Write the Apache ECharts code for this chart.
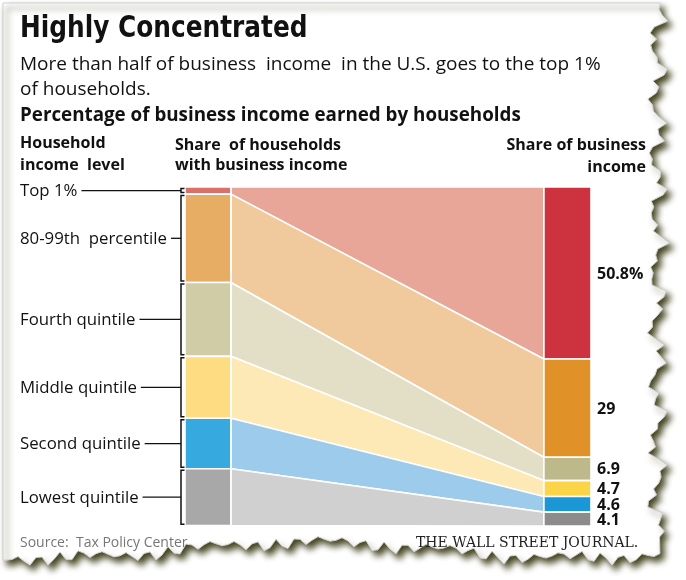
<!DOCTYPE html>
<html><head><meta charset="utf-8">
<script src="https://cdn.jsdelivr.net/npm/echarts@6/dist/echarts.min.js"></script>
<style>html,body{margin:0;padding:0;background:#fff}#c{width:686px;height:580px}</style>
</head><body><div id="c"></div>
<script>
const levels = ['Top 1%', '80-99th  percentile', 'Fourth quintile', 'Middle quintile', 'Second quintile', 'Lowest quintile'];
const householdShare = [2.1, 26.1, 21.8, 18.3, 14.9, 16.8];
const incomeShare = [50.8, 29, 6.9, 4.7, 4.6, 4.1];
const incomeLabels = ['50.8%', '29', '6.9', '4.7', '4.6', '4.1'];

const leftColors = ['#d9706a', '#e8ad64', '#d0cca6', '#fddc82', '#36a9df', '#a8a8a8'];
const flowColors = ['#e8a699', '#f0ca9c', '#e3dfc7', '#fde9b6', '#9ccbec', '#d0d0d0'];
const rightColors = ['#cc333f', '#e09228', '#bdb98a', '#fcd447', '#1a97d4', '#8c8c8c'];

const LEFT_END = 11.3, RIGHT_START = 88.4;
const labelFont = '16.8px "Open Sans"';
const measure = (() => { const c = document.createElement('canvas').getContext('2d'); return (t, f) => { c.font = f; return c.measureText(t).width; }; })();

const cum = arr => arr.reduce((a, v, i) => { a.push((a[i] || 0) + v); return a; }, [0]);
const leftCum = cum(householdShare), rightCum = cum(incomeShare);
const yMax = Math.max(leftCum[leftCum.length - 1], rightCum[rightCum.length - 1]);

// decorative torn paper edge
function tornPath() {
  const pts = [[3, 3], [640, 3]];
  for (let y = 3; y <= 540; y += 6) {
    const x = 657 + 6 * Math.sin(y * 0.11) + 4 * Math.sin(y * 0.37) + 3 * Math.sin(y * 1.3);
    pts.push([x, y]);
  }
  for (let x = 660; x >= 3; x -= 6) {
    const base = 550 + 8 * Math.sin(x * 0.012 + 1);
    const y = base + 4 * Math.sin(x * 0.29) + 3 * Math.sin(x * 1.1) + 2 * Math.sin(x * 0.7);
    pts.push([x, y]);
  }
  pts.push([3, 560]);
  return pts;
}

const chart = echarts.init(document.getElementById('c'), null, { renderer: 'canvas' });
const headFont = 'bold 16px "Open Sans"';

chart.setOption({
  animation: false,
  backgroundColor: '#fff',
  grid: { left: 185, right: 95, top: 187, bottom: 54 },
  xAxis: { type: 'value', min: 0, max: 100, show: false },
  yAxis: { type: 'value', min: 0, max: yMax, inverse: true, show: false },
  graphic: [
    { type: 'polygon', z: -10, shape: { points: tornPath() },
      style: { fill: '#fff', stroke: '#cfcfcf', lineWidth: 1, shadowBlur: 6, shadowColor: 'rgba(50,50,10,0.9)', shadowOffsetX: 4, shadowOffsetY: 5 } },
    { type: 'text', x: 20, y: 29, scaleX: 0.89, style: { text: 'Highly Concentrated', font: 'bold 31px "DejaVu Sans Condensed"', fill: '#111', verticalAlign: 'middle', letterSpacing: -0.6 } },
    { type: 'text', x: 20, y: 65, style: { text: 'More than half of business  income  in the U.S. goes to the top 1%', font: '19px "Open Sans"', fill: '#111', verticalAlign: 'middle', letterSpacing: -0.2 } },
    { type: 'text', x: 20, y: 90, style: { text: 'of households.', font: '19px "Open Sans"', fill: '#111', verticalAlign: 'middle', letterSpacing: -0.2 } },
    { type: 'text', x: 20, y: 116, style: { text: 'Percentage of business income earned by households', font: 'bold 18.8px "Open Sans"', fill: '#111', verticalAlign: 'middle' } },
    { type: 'text', x: 20, y: 143, style: { text: 'Household', font: headFont, fill: '#111', verticalAlign: 'middle', letterSpacing: -0.7 } },
    { type: 'text', x: 20, y: 165, style: { text: 'income  level', font: headFont, fill: '#111', verticalAlign: 'middle', letterSpacing: -0.7 } },
    { type: 'text', x: 175, y: 145, style: { text: 'Share  of households', font: headFont, fill: '#111', verticalAlign: 'middle', letterSpacing: -0.5 } },
    { type: 'text', x: 175, y: 165, style: { text: 'with business income', font: headFont, fill: '#111', verticalAlign: 'middle', letterSpacing: -0.5 } },
    { type: 'text', x: 646, y: 145, style: { text: 'Share of business', font: headFont, fill: '#111', align: 'right', verticalAlign: 'middle', letterSpacing: -0.3 } },
    { type: 'text', x: 646, y: 167, style: { text: 'income', font: headFont, fill: '#111', align: 'right', verticalAlign: 'middle', letterSpacing: -0.3 } },
    { type: 'text', x: 20, y: 543, style: { text: 'Source:  Tax Policy Center', font: '14px "Open Sans"', fill: '#777', verticalAlign: 'middle' } },
    { type: 'text', x: 416, y: 543, style: { text: 'THE WALL STREET JOURNAL.', font: '14px "DejaVu Serif"', fill: '#222', verticalAlign: 'middle', letterSpacing: -1.1 } }
  ],
  series: [{
    type: 'custom',
    clip: false,
    data: levels.map((_, i) => [i]),
    renderItem: (params, api) => {
      const i = api.value(0);
      const l0 = leftCum[i], l1 = leftCum[i + 1], r0 = rightCum[i], r1 = rightCum[i + 1];
      const a = api.coord([0, l0]), b = api.coord([LEFT_END, l1]);
      const c = api.coord([RIGHT_START, r0]), d = api.coord([100, r1]);
      const pL0 = api.coord([LEFT_END, l0]), pL1 = api.coord([LEFT_END, l1]);
      const pR0 = api.coord([RIGHT_START, r0]), pR1 = api.coord([RIGHT_START, r1]);
      const sep = { stroke: '#fff', lineWidth: 1.6 };
      const midL = (a[1] + b[1]) / 2, midR = (c[1] + d[1]) / 2;
      const bx = a[0] - 4;
      const textW = measure(levels[i], labelFont);
      return {
        type: 'group',
        children: [
          { type: 'polygon', shape: { points: [pL0, pR0, pR1, pL1] }, style: Object.assign({ fill: flowColors[i] }, sep) },
          { type: 'rect', shape: { x: a[0], y: a[1], width: b[0] - a[0], height: b[1] - a[1] }, style: Object.assign({ fill: leftColors[i] }, sep) },
          { type: 'rect', shape: { x: c[0], y: c[1], width: d[0] - c[0], height: d[1] - c[1] }, style: Object.assign({ fill: rightColors[i] }, sep) },
          { type: 'polyline', shape: { points: [[bx + 3.5, a[1] + 1.5], [bx, a[1] + 1.5], [bx, b[1] - 1.5], [bx + 3.5, b[1] - 1.5]] }, style: { stroke: '#111', lineWidth: 1.5, fill: null } },
          { type: 'line', shape: { x1: 20 + textW + 4, y1: midL, x2: bx, y2: midL }, style: { stroke: '#111', lineWidth: 1.3 } },
          { type: 'text', x: 20, y: midL + 1, style: { text: levels[i], font: labelFont, fill: '#111', verticalAlign: 'middle' } },
          { type: 'text', x: d[0] + 6, y: midR + 1, style: { text: incomeLabels[i], font: 'bold 16px "Open Sans"', fill: '#111', verticalAlign: 'middle', letterSpacing: -1 } }
        ]
      };
    }
  }]
});
</script></body></html>
